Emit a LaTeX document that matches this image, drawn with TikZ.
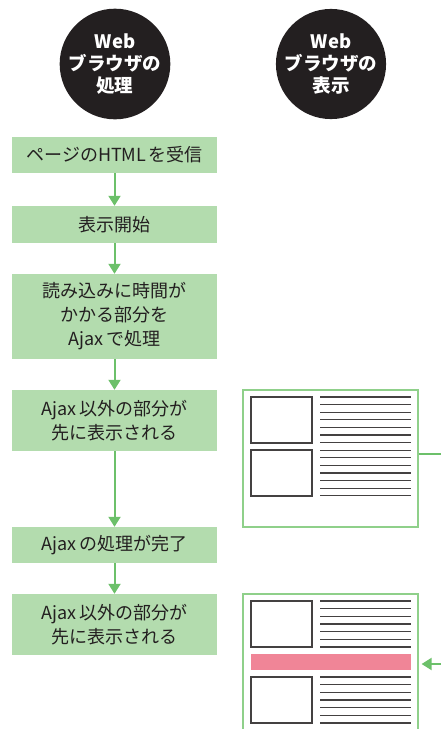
\documentclass[tikz,border=0pt]{standalone}
\usepackage{fontspec}
\newfontfamily\cjk{Noto Sans CJK JP}
\usetikzlibrary{arrows.meta}
\definecolor{boxgreen}{HTML}{B3DCAE}
\definecolor{arrowgreen}{HTML}{6CC06A}
\definecolor{screengreen}{HTML}{8FD08A}
\definecolor{inkdark}{HTML}{231F20}
\definecolor{pinkbar}{HTML}{F08597}
\tikzset{
  headcircle/.style={circle, fill=inkdark, minimum size=106pt, inner sep=0pt, text=white, align=center,
    font=\cjk\bfseries\fontsize{18.5}{22}\selectfont},
  stepbox/.style={fill=boxgreen, minimum width=205pt, inner sep=0pt, text=inkdark, align=center,
    font=\cjk\fontsize{18}{24}\selectfont},
  flow/.style={draw=arrowgreen, line width=2pt, -{Triangle[width=12pt,length=10pt]}},
  screen/.style={draw=screengreen, line width=1.2pt, fill=white, inner sep=0pt},
  pic/.style={draw=inkdark!85, line width=1.3pt},
  txtline/.style={draw=inkdark!85, line width=1.3pt},
}
\begin{document}
\begin{tikzpicture}[x=1pt,y=-1pt]
\useasboundingbox (0,0) rectangle (441,729);
\begin{scope}
\clip (0,0) rectangle (441,729);
% header circles
\node[headcircle] (c1) at (115,64) {Web\\ブラウザの\\処理};
\node[headcircle] (c2) at (331,64) {Web\\ブラウザの\\表示};
% flow boxes
\node[stepbox, minimum height=36pt] (b1) at (114.5,155) {ページのHTML\hspace{0.12em}を受信};
\node[stepbox, minimum height=37pt] (b2) at (114.5,224.5) {表示開始};
\node[stepbox, minimum height=85pt] (b3) at (114.5,316.5) {読み込みに時間が\\かかる部分を\\Ajax\hspace{0.12em}で処理};
\node[stepbox, minimum height=61pt] (b4) at (114.5,420.5) {Ajax\hspace{0.12em}以外の部分が\\先に表示される};
\node[stepbox, minimum height=36pt] (b5) at (114.5,545) {Ajax\hspace{0.12em}の処理が完了};
\node[stepbox, minimum height=61pt] (b6) at (114.5,624.5) {Ajax\hspace{0.12em}以外の部分が\\先に表示される};
\draw[flow] (b1.south) -- (b2.north);
\draw[flow] (b2.south) -- (b3.north);
\draw[flow] (b3.south) -- (b4.north);
\draw[flow] (b4.south) -- (b5.north);
\draw[flow] (b5.south) -- (b6.north);
% screen 1
\node[screen, minimum width=175pt, minimum height=137pt] (s1) at (330.5,458.5) {};
\draw[pic] (251,397) rectangle (312,443);
\draw[pic] (251,450) rectangle (312,496);
\foreach \i in {0,...,13} {
  \draw[txtline] (320,{397+\i*7.6}) -- (411,{397+\i*7.6});
}
\coordinate (out1) at (441,454);
\draw[draw=arrowgreen, line width=2pt] (s1.east |- out1) -- (out1);
% screen 2
\node[screen, minimum width=175pt, minimum height=142pt] (s2) at (330.5,665) {};
\draw[pic] (251,601) rectangle (312,647);
\foreach \i in {0,...,6} {
  \draw[txtline] (320,{601+\i*7.67}) -- (411,{601+\i*7.67});
}
\fill[pinkbar] (251,654) rectangle (411,670);
\draw[pic] (251,677) rectangle (312,723);
\foreach \i in {0,...,6} {
  \draw[txtline] (320,{677+\i*7.67}) -- (411,{677+\i*7.67});
}
\coordinate (in2) at (443,664);
\draw[flow] (in2) -- ([xshift=3pt]s2.east |- in2);
\end{scope}
\end{tikzpicture}
\end{document}
